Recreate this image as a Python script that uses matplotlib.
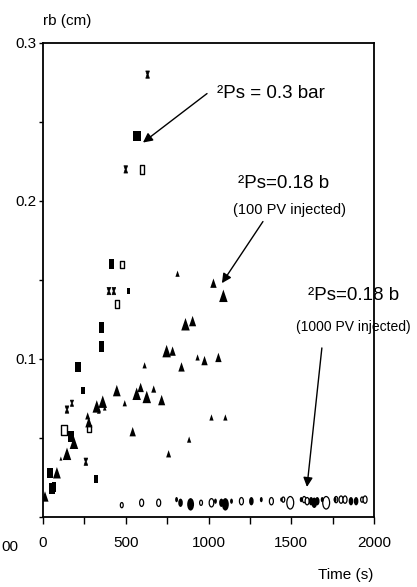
import numpy as np
import matplotlib
matplotlib.use("Agg")
import matplotlib.pyplot as plt
from matplotlib.path import Path
from matplotlib.transforms import Affine2D
from matplotlib.ticker import MultipleLocator, FixedLocator

plt.rcParams['font.family'] = ['Liberation Sans', 'DejaVu Sans']

# ---- data (time in s, rb in cm, bubble size) ----
sq_big_x = [566]
sq_big_y = [0.241]
sq_big_s = [9]

rect_fill_x = [416, 518, 355, 355, 211, 241, 169, 42, 54, 66, 319]
rect_fill_y = [0.160, 0.143, 0.120, 0.108, 0.095, 0.080, 0.051, 0.028, 0.018, 0.019, 0.024]
rect_fill_s = [10, 6, 10, 10, 10, 7, 10, 10, 10, 9, 7]

rect_open_x = [596, 476, 446, 127, 277]
rect_open_y = [0.220, 0.160, 0.135, 0.055, 0.056]
rect_open_s = [8, 7, 8, 10, 7]

hour_x = [632, 500, 398, 428, 145, 175, 259]
hour_y = [0.280, 0.220, 0.143, 0.143, 0.068, 0.072, 0.035]
hour_s = [7, 7, 7, 7, 7, 6, 7]

tri_x = [12, 84, 108, 145, 187, 277, 270, 325, 337, 361, 373, 446, 494, 542, 566,
         590, 614, 627, 669, 717, 747, 759, 783, 813, 837, 861, 883, 904, 934, 976,
         1018, 1030, 1060, 1090, 1102]
tri_y = [0.013, 0.028, 0.037, 0.040, 0.047, 0.060, 0.064, 0.070, 0.067, 0.073, 0.069,
         0.080, 0.072, 0.054, 0.078, 0.082, 0.096, 0.076, 0.081, 0.074, 0.105, 0.040,
         0.105, 0.154, 0.095, 0.122, 0.049, 0.124, 0.101, 0.099, 0.063, 0.148, 0.101,
         0.140, 0.063]
tri_s = [10, 11, 4, 12, 12, 10, 7, 12, 5, 12, 5, 11, 6, 9, 12, 9, 6, 12, 7, 10, 12,
         7, 9, 6, 9, 12, 6, 10, 6, 9, 6, 9, 9, 12, 6]

ell_open_x = [476, 596, 699, 955, 1018, 1199, 1380, 1452, 1494, 1578, 1596, 1711,
              1771, 1801, 1825, 1928, 1946]
ell_open_y = [0.0075, 0.009, 0.009, 0.009, 0.009, 0.010, 0.010, 0.011, 0.009, 0.011,
              0.010, 0.009, 0.011, 0.011, 0.011, 0.011, 0.011]
ell_open_s = [5, 7, 7, 5, 8, 7, 7, 5, 12, 6, 7, 12, 6, 7, 7, 5, 7]

ell_fill_x = [807, 831, 892, 1042, 1078, 1102, 1139, 1259, 1319, 1440, 1560, 1620,
              1639, 1657, 1687, 1765, 1861, 1892]
ell_fill_y = [0.011, 0.009, 0.008, 0.010, 0.009, 0.008, 0.010, 0.010, 0.011, 0.011,
              0.011, 0.010, 0.009, 0.010, 0.011, 0.011, 0.010, 0.010]
ell_fill_s = [5, 8, 12, 5, 8, 12, 5, 8, 5, 4, 5, 8, 10, 8, 5, 5, 8, 8]

# ---- marker shapes ----
rect_marker = Path([(-0.25, -0.5), (0.25, -0.5), (0.25, 0.5), (-0.25, 0.5), (-0.25, -0.5)],
                   closed=True)
sq_marker = Path([(-0.45, -0.5), (0.45, -0.5), (0.45, 0.5), (-0.45, 0.5), (-0.45, -0.5)],
                 closed=True)
hour_marker = Path([(-0.25, -0.5), (0.25, -0.5), (0.08, 0.0), (0.25, 0.5), (-0.25, 0.5),
                    (-0.08, 0.0), (-0.25, -0.5)], closed=True)
tri_marker = Path([(-0.34, -0.5), (0.34, -0.5), (0.0, 0.5), (-0.34, -0.5)], closed=True)
ell_marker = Path.unit_circle().transformed(Affine2D().scale(0.55, 1.0))


def sz(h):
    return (np.asarray(h) * 0.75) ** 2


fig = plt.figure(figsize=(4.17, 5.87), dpi=100)
ax = fig.add_axes([43 / 417, 1 - 517 / 587, (374 - 43) / 417, (517 - 43) / 587])

ax.scatter(sq_big_x, sq_big_y, s=sz(sq_big_s), marker=sq_marker, c='black', linewidths=0)
ax.scatter(rect_fill_x, rect_fill_y, s=sz(rect_fill_s), marker=rect_marker, c='black',
           linewidths=0)
ax.scatter(rect_open_x, rect_open_y, s=sz(rect_open_s), marker=rect_marker,
           facecolors='white', edgecolors='black', linewidths=1.0)
ax.scatter(hour_x, hour_y, s=sz(hour_s), marker=hour_marker, facecolors='black',
           edgecolors='black', linewidths=0.5)
ax.scatter(tri_x, tri_y, s=sz(tri_s), marker=tri_marker, c='black', linewidths=0)
ax.scatter(ell_open_x, ell_open_y, s=sz(ell_open_s), marker=ell_marker,
           facecolors='white', edgecolors='black', linewidths=0.9)
ax.scatter(ell_fill_x, ell_fill_y, s=sz(ell_fill_s), marker=ell_marker, c='black',
           linewidths=0)

ax.set_xlim(0, 2000)
ax.set_ylim(0, 0.3)
ax.xaxis.set_major_locator(MultipleLocator(500))
ax.xaxis.set_minor_locator(MultipleLocator(250))
ax.yaxis.set_major_locator(FixedLocator([0.1, 0.2, 0.3]))
ax.yaxis.set_minor_locator(FixedLocator([0.0, 0.05, 0.15, 0.25]))
ax.set_yticklabels(['0.1', '0.2', '0.3'])
ax.tick_params(axis='x', which='both', direction='out', length=5, width=1, pad=9,
               labelsize=11)
ax.tick_params(axis='y', which='both', direction='out', length=3, width=1, pad=2,
               labelsize=11)
for sp in ax.spines.values():
    sp.set_linewidth(1.3)

fig.text(43 / 417, 1 - 21 / 587, 'rb (cm)', fontsize=11, ha='left', va='center')
fig.text(373 / 417, 1 - 575 / 587, 'Time (s)', fontsize=11, ha='right', va='center')
fig.text(1 / 417, 1 - 547 / 587, '00', fontsize=11, ha='left', va='center')

arrow = dict(arrowstyle='-|>', color='black', lw=1.0, mutation_scale=14,
             shrinkA=0, shrinkB=0)
ax.annotate('', xy=(604, 0.237), xytext=(991, 0.268), arrowprops=arrow)
ax.annotate('', xy=(1081, 0.148), xytext=(1329, 0.187), arrowprops=arrow)
ax.annotate('', xy=(1595, 0.019), xytext=(1685, 0.107), arrowprops=arrow)

ax.text(1051, 0.268, '\u00b2Ps = 0.3 bar', fontsize=13.5, ha='left', va='center')
ax.text(1178, 0.211, '\u00b2Ps=0.18 b', fontsize=13.5, ha='left', va='center')
ax.text(1148, 0.194, '(100 PV injected)', fontsize=10.5, ha='left', va='center')
ax.text(1601, 0.1405, '\u00b2Ps=0.18 b', fontsize=13.5, ha='left', va='center')
ax.text(1530, 0.120, '(1000 PV injected)', fontsize=10, ha='left', va='center')

fig.savefig('out.png', dpi=100)
